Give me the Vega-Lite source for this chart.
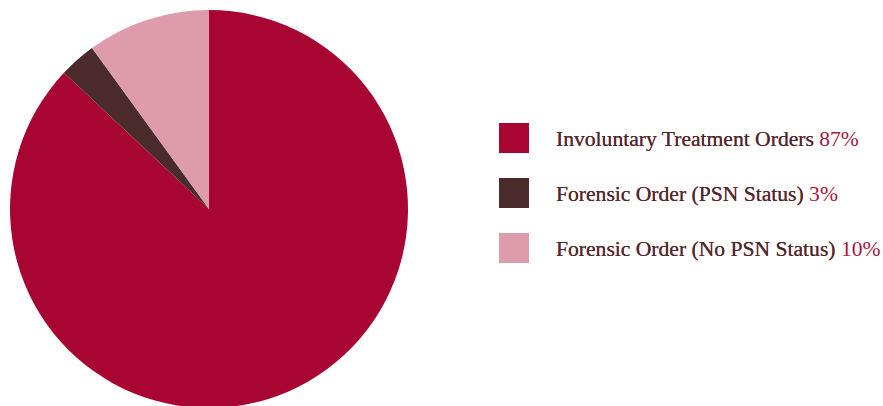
{
  "$schema": "https://vega.github.io/schema/vega-lite/v6.json",
  "padding": 0,
  "background": "white",
  "config": {"view": {"stroke": null}, "concat": {"spacing": 81}},
  "data": {"values": [
    {"category": "Involuntary Treatment Orders", "value": 87, "order": 1, "label": "Involuntary Treatment Orders", "full": "Involuntary Treatment Orders 87%"},
    {"category": "Forensic Order (PSN Status)", "value": 3, "order": 2, "label": "Forensic Order (PSN Status)", "full": "Forensic Order (PSN Status) 3%"},
    {"category": "Forensic Order (No PSN Status)", "value": 10, "order": 3, "label": "Forensic Order (No PSN Status)", "full": "Forensic Order (No PSN Status) 10%"}
  ]},
  "hconcat": [
    {
      "width": 418,
      "height": 418,
      "mark": {"type": "arc", "outerRadius": 199, "stroke": null},
      "encoding": {
        "theta": {"field": "value", "type": "quantitative", "stack": true},
        "order": {"field": "order", "type": "quantitative"},
        "color": {"field": "category", "type": "nominal",
          "scale": {"domain": ["Involuntary Treatment Orders", "Forensic Order (PSN Status)", "Forensic Order (No PSN Status)"],
                    "range": ["#A80532", "#4A2A2B", "#DD9BAB"]},
          "legend": null}
      }
    },
    {
      "width": 384,
      "height": 386,
      "encoding": {
        "y": {"field": "category", "type": "ordinal", "sort": {"field": "order"},
              "scale": {"type": "point", "range": [138, 248], "padding": 0}, "axis": null}
      },
      "layer": [
        {
          "mark": {"type": "point", "shape": "square", "filled": true, "size": 900, "opacity": 1, "strokeWidth": 0},
          "encoding": {
            "x": {"value": 15},
            "color": {"field": "category", "type": "nominal", "legend": null}
          }
        },
        {
          "mark": {"type": "text", "align": "left", "baseline": "alphabetic", "dy": 8, "font": "Liberation Serif", "fontSize": 21.6, "color": "#A8163F"},
          "encoding": {"x": {"value": 57}, "text": {"field": "full"}}
        },
        {
          "mark": {"type": "text", "align": "left", "baseline": "alphabetic", "dy": 8, "font": "Liberation Serif", "fontSize": 21.6, "color": "#4A2A2B"},
          "encoding": {"x": {"value": 57}, "text": {"field": "label"}}
        }
      ]
    }
  ]
}
